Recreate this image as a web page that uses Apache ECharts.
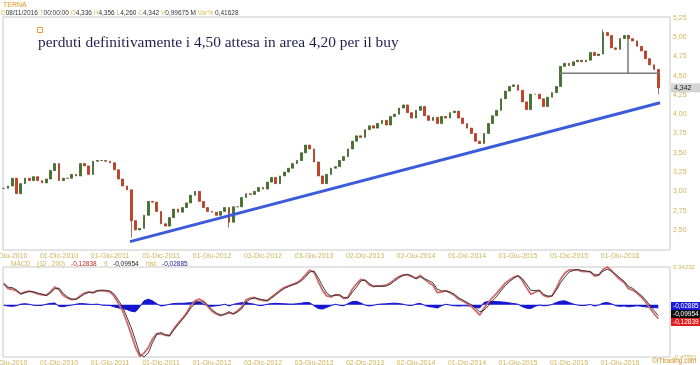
<!DOCTYPE html>
<html><head><meta charset="utf-8">
<script src="https://cdn.jsdelivr.net/npm/echarts@6/dist/echarts.min.js"></script>
<style>html,body{margin:0;padding:0;background:#fff}#c{width:700px;height:365px}</style>
</head><body><div id="c"></div>
<script>
// ---- data (x in months since Jan 2010, one sample every half month) ----
const startMonth = 4.5;
const stepMonth = 0.5;
const closes = [3.04,3.07,3.17,2.97,3.10,3.17,3.14,3.19,3.14,3.11,
 3.16,3.27,3.36,3.14,3.17,3.17,3.22,3.20,3.36,3.33,
 3.22,3.39,3.40,3.40,3.39,3.37,3.28,3.16,3.07,3.02,
 2.62,2.50,2.52,2.69,2.87,2.86,2.74,2.58,2.55,2.66,
 2.77,2.73,2.79,2.85,2.95,3.00,2.87,2.79,2.74,2.73,
 2.69,2.74,2.79,2.60,2.80,2.80,2.92,2.97,2.96,3.00,
 3.05,3.03,3.12,3.18,3.10,3.20,3.25,3.30,3.36,3.40,
 3.50,3.60,3.55,3.38,3.20,3.10,3.22,3.30,3.32,3.40,
 3.45,3.55,3.65,3.72,3.70,3.80,3.85,3.82,3.88,3.92,
 3.86,3.97,4.00,4.08,4.12,4.02,3.95,4.05,4.10,3.98,
 3.92,3.96,3.88,3.97,3.95,4.02,4.04,3.95,3.88,3.82,
 3.75,3.65,3.62,3.75,3.88,3.98,4.05,4.20,4.30,4.36,
 4.38,4.31,4.16,4.06,4.26,4.26,4.20,4.10,4.22,4.28,
 4.36,4.62,4.66,4.63,4.68,4.70,4.68,4.70,4.80,4.76,
 4.78,5.06,5.02,4.86,4.84,4.98,5.02,4.98,4.95,4.88,
 4.82,4.72,4.64,4.58,4.342];
// explicit [low, high] where the wick reaches beyond the body
const wicks = {30:[2.40,3.02], 53:[2.53,2.79], 141:[4.78,5.10], 154:[4.26,4.58]};
const macd = [0.19,0.146,0.14,0.125,0.10,0.116,0.124,0.112,0.098,0.09,
 0.086,0.118,0.16,0.135,0.084,0.06,0.046,0.052,0.08,0.105,
 0.116,0.109,0.128,0.128,0.124,0.116,0.075,0.01,-0.06,-0.16,
 -0.27,-0.39,-0.47,-0.44,-0.39,-0.31,-0.262,-0.265,-0.278,-0.28,
 -0.22,-0.17,-0.125,-0.075,-0.01,0.035,0.05,0.03,-0.015,-0.06,
 -0.085,-0.10,-0.085,-0.075,-0.083,-0.055,-0.02,0.045,0.06,0.065,
 0.045,0.038,0.038,0.07,0.10,0.13,0.155,0.17,0.185,0.20,
 0.23,0.27,0.315,0.295,0.21,0.13,0.08,0.07,0.09,0.085,
 0.055,0.069,0.14,0.19,0.23,0.22,0.18,0.163,0.17,0.172,
 0.177,0.20,0.23,0.255,0.27,0.27,0.255,0.24,0.265,0.23,
 0.20,0.177,0.11,0.115,0.128,0.11,0.085,0.052,0.033,0.01,
 -0.015,-0.055,-0.095,-0.03,0.02,0.065,0.105,0.15,0.195,0.225,
 0.25,0.265,0.22,0.155,0.095,0.113,0.128,0.084,0.07,0.08,
 0.15,0.23,0.285,0.316,0.316,0.316,0.303,0.30,0.30,0.26,
 0.268,0.32,0.342,0.31,0.265,0.228,0.20,0.146,0.133,0.105,
 0.07,0.025,-0.03,-0.08,-0.128];
const hist = [-0.005,-0.012,-0.015,-0.01,0.005,0.008,0.004,-0.006,-0.008,-0.006,
 0.004,0.012,0.015,-0.015,-0.018,-0.01,-0.004,0.004,0.01,0.008,
 0.004,0.002,0.005,-0.004,-0.006,-0.008,-0.02,-0.03,-0.035,-0.045,
 -0.06,-0.065,-0.02,0.035,0.05,0.035,0.008,-0.012,-0.006,0.004,
 0.01,0.012,0.012,0.015,0.018,0.028,0.025,0.005,-0.012,-0.015,
 -0.01,-0.006,0.004,-0.012,0.002,0.012,0.018,0.02,0.01,0.004,
 -0.008,-0.006,0.004,0.01,0.012,0.01,0.008,0.006,0.005,0.008,
 0.014,0.02,0.018,-0.01,-0.035,-0.04,-0.025,-0.008,0.004,-0.006,
 -0.01,0.01,0.028,0.03,0.015,-0.004,-0.012,-0.006,0.003,0.006,
 0.008,0.012,0.014,0.01,0.004,-0.006,-0.008,0.006,0.012,-0.006,
 -0.018,-0.022,-0.03,-0.01,0.004,-0.004,-0.01,-0.012,-0.01,-0.01,
 -0.015,-0.025,-0.03,0.02,0.03,0.03,0.028,0.025,0.022,0.016,
 0.01,0.004,-0.018,-0.032,-0.035,-0.015,-0.004,-0.01,-0.008,0.002,
 0.02,0.032,0.035,0.02,0.006,-0.004,-0.008,-0.006,0.002,-0.012,
 -0.004,0.015,0.02,0.008,-0.01,-0.015,-0.012,-0.02,-0.015,-0.01,
 -0.014,-0.02,-0.024,-0.027,-0.029];
const tickMonths = [5,11,17,23,29,35,41,47,53,59,65,71,77];
const tickLabels = ['01-Giu-2010','01-Dic-2010','01-Giu-2011','01-Dic-2011','01-Giu-2012','03-Dic-2012','03-Giu-2013','02-Dic-2013','02-Giu-2014','01-Dic-2014','01-Giu-2015','01-Dic-2015','01-Giu-2016'];
const priceTicks = [2.5,2.75,3.0,3.25,3.5,3.75,4.0,4.25,4.5,4.75,5.0,5.25];
const priceRange = [2.24, 5.26];
const macdRange = [-0.4755, 0.3423];
const macdRangeLabels = ['-0,47551','0,34232'];
const xRange = [4.41, 82.88];
const trendX = [19.35, 81.71], trendY = [2.348, 4.149];
const supportX = [69.94, 81.71], supportY = [4.53, 4.53];
const spikeX = [77.94, 77.94], spikeY = [5.03, 4.53];
const lastClose = 4.342;
const lastValues = {hist:'-0,02885', signal:'-0,09954', macd:'-0,12839'};

// ---- build ----
const xs = closes.map((_, i) => startMonth + i * stepMonth);
const candles = closes.map((c, i) => {
  const o = i === 0 ? c : closes[i - 1];
  let lo = Math.min(o, c), hi = Math.max(o, c);
  if (wicks[i]) { lo = wicks[i][0]; hi = wicks[i][1]; }
  return [xs[i], o, c, lo, hi];
});
const macdData = macd.map((v, i) => [xs[i], v]);
const histData = hist.map((v, i) => [xs[i], v]);
const signalData = macd.map((v, i) => [xs[i], +(v - hist[i]).toFixed(4)]);

const FONT = '"Liberation Sans", Arial, sans-serif';
const OCHRE = '#cdb55a';
function xAxisDef(gi) {
  return {type:'value', gridIndex:gi, min:xRange[0], max:xRange[1],
    axisLine:{show:false}, axisTick:{show:false}, splitLine:{show:false},
    axisLabel:{customValues:tickMonths, color:OCHRE, fontSize:7, fontFamily:FONT, margin:3,
      formatter:v => { const k = tickMonths.findIndex(t => Math.abs(t - v) < 1e-6); return k >= 0 ? tickLabels[k] : ''; }}};
}
function txt(x, y, text, fill, size, fam, extra) {
  const s = Object.assign({text, fill, font: size + 'px ' + (fam || FONT),
    textAlign:'left', textVerticalAlign:'middle', align:'left', verticalAlign:'middle'}, extra || {});
  return {type:'text', x, y, silent:true, z:100, style:s};
}

const chart = echarts.init(document.getElementById('c'));
const option = {
  animation:false,
  backgroundColor:'#ffffff',
  grid:[
    {left:3, right:30, top:17, height:233, show:true, borderColor:'#c8c8c8', borderWidth:1, backgroundColor:'#fff', containLabel:false, outerBoundsMode:'none'},
    {left:3, right:30, top:267, height:90, show:true, borderColor:'#c8c8c8', borderWidth:1, backgroundColor:'#fff', containLabel:false, outerBoundsMode:'none'}
  ],
  xAxis:[xAxisDef(0), xAxisDef(1)],
  yAxis:[
    {type:'value', gridIndex:0, position:'right', min:priceRange[0], max:priceRange[1],
      axisLine:{show:false}, axisTick:{show:false}, splitLine:{show:false},
      axisLabel:{customValues:priceTicks, color:OCHRE, fontSize:7, fontFamily:FONT, margin:3,
        formatter:v => v.toFixed(2).replace('.', ',')}},
    {type:'value', gridIndex:1, position:'right', min:macdRange[0], max:macdRange[1],
      axisLine:{show:false}, axisTick:{show:false}, splitLine:{show:false},
      axisLabel:{customValues:macdRange, color:OCHRE, fontSize:6, fontFamily:FONT, margin:3,
        formatter:v => v > 0 ? macdRangeLabels[1] : macdRangeLabels[0]}}
  ],
  series:[
    {type:'candlestick', xAxisIndex:0, yAxisIndex:0, data:candles, encode:{x:0, y:[1,2,3,4]},
      barWidth:2.4,
      itemStyle:{color:'#3c7a22', color0:'#d83a1e', borderColor:'#34521c', borderColor0:'#9a2a14', borderWidth:0.7}},
    {type:'line', xAxisIndex:0, yAxisIndex:0, data:supportX.map((x,i)=>[x,supportY[i]]), symbol:'none',
      lineStyle:{color:'#7a7a7a', width:1.5}, z:3},
    {type:'line', xAxisIndex:0, yAxisIndex:0, data:spikeX.map((x,i)=>[x,spikeY[i]]), symbol:'none',
      lineStyle:{color:'#5a5a5a', width:1.2}, z:3},
    {type:'line', xAxisIndex:0, yAxisIndex:0, data:trendX.map((x,i)=>[x,trendY[i]]), symbol:'none',
      lineStyle:{color:'#3b5bdb', width:3}, z:4},
    {type:'line', xAxisIndex:1, yAxisIndex:1, data:histData, symbol:'none',
      lineStyle:{color:'#1515d0', width:1}, areaStyle:{color:'#1515d0', opacity:1}, z:2},
    {type:'line', xAxisIndex:1, yAxisIndex:1, data:macdData, symbol:'none',
      lineStyle:{color:'#d06a6a', width:1.8}, z:3},
    {type:'line', xAxisIndex:1, yAxisIndex:1, data:signalData, symbol:'none',
      lineStyle:{color:'#2a2a2a', width:0.9}, z:4}
  ]
};
chart.setOption(option);

const yLast = chart.convertToPixel({gridIndex:0}, [xs[xs.length-1], lastClose])[1];
const g = [
  txt(3, 5, 'TERNA', '#e09a20', 7),
  {type:'text', x:1, y:13, silent:true, z:100, style:{
    text:'{k|D}{v|08/11/2016} {k|T}{v|00:00:00} {k|O}{v|4,336} {k|H}{v|4,356} {k|L}{v|4,260} {k|C}{v|4,342} {k|V}{v|0,99675 M} {k|Var%} {v|0,41628}',
    font:'6.5px ' + FONT, fill:'#333', textAlign:'left', textVerticalAlign:'middle', align:'left', verticalAlign:'middle',
    rich:{k:{fill:'#d8c25a', font:'6.5px ' + FONT}, v:{fill:'#333333', font:'6.5px ' + FONT}}}},
  {type:'rect', shape:{x:37.5, y:27.5, width:5, height:5}, silent:true, z:100, style:{fill:'none', stroke:'#e8a040', lineWidth:1}},
  txt(38, 43, 'perduti definitivamente i 4,50 attesa in area 4,20 per il buy', '#1e1e4e', 15.4, '"Liberation Serif", "Times New Roman", serif'),
  {type:'rect', shape:{x:671, y:yLast - 4.5, width:29, height:9}, silent:true, z:99, style:{fill:'#d4d4d4'}},
  txt(674, yLast, '4,342', '#222', 7),
  // MACD header
  txt(11, 264, 'MACD', OCHRE, 6.5),
  txt(37, 264, '(32 , 200)', OCHRE, 6.5),
  txt(71, 264, '-0,12838', '#c82828', 6.5),
  txt(104, 264, '9', OCHRE, 6.5),
  txt(113, 264, '-0,09954', '#222', 6.5),
  txt(146, 264, 'hist', OCHRE, 6.5),
  txt(162, 264, '-0,02885', '#20208a', 6.5),
  // MACD last-value boxes
  {type:'rect', shape:{x:671, y:302, width:29, height:8}, silent:true, z:99, style:{fill:'#1a1ad8'}},
  txt(673, 306, lastValues.hist, '#fff', 6.5),
  {type:'rect', shape:{x:671, y:310, width:29, height:8}, silent:true, z:99, style:{fill:'#111'}},
  txt(673, 314, lastValues.signal, '#fff', 6.5),
  {type:'rect', shape:{x:671, y:318, width:29, height:8}, silent:true, z:99, style:{fill:'#e02020'}},
  txt(673, 322, lastValues.macd, '#fff', 6.5),
  txt(652, 361, '©ITtrading.com', '#d08a20', 6.5)
];
chart.setOption({graphic:g});
</script></body></html>
